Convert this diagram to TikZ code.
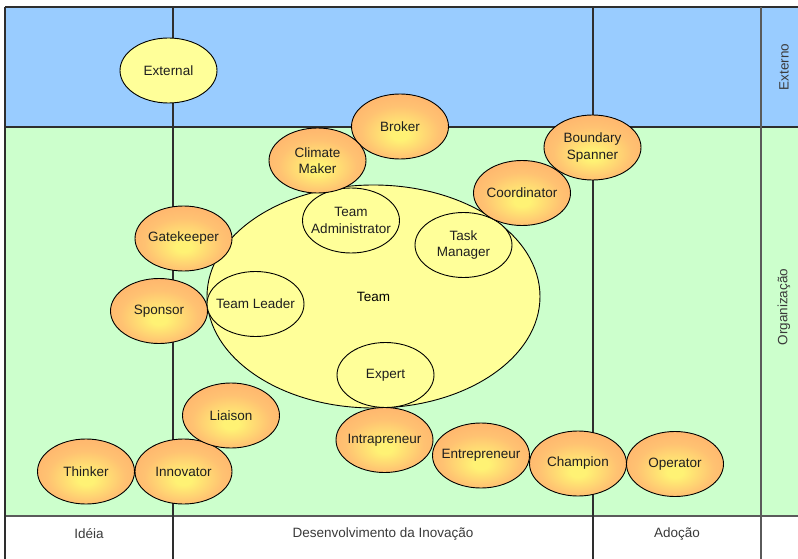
\documentclass[tikz,border=0pt]{standalone}
\usepackage{fontspec}
\setmainfont{Liberation Sans}
\usetikzlibrary{shapes.geometric}

\definecolor{extblue}{HTML}{99CCFF}
\definecolor{orggreen}{HTML}{CCFFCC}
\definecolor{teamyellow}{HTML}{FFFF99}
\definecolor{rolecore}{HTML}{FFF274}
\definecolor{rolemid}{HTML}{FFC272}
\definecolor{roleedge}{HTML}{FF9863}
\definecolor{gridline}{HTML}{2E2E2E}
\definecolor{softline}{HTML}{5A5A5A}
\definecolor{labeltext}{HTML}{3A3A3A}

% radial glow for the role ellipses: small yellow core fading to an orange rim
\pgfdeclareradialshading{roleglow}{\pgfpoint{0bp}{-7bp}}{%
  color(0bp)=(rolecore); color(4bp)=(rolecore); color(20bp)=(rolemid);
  color(50bp)=(roleedge)}

\tikzset{
  txt/.style={font=\fontsize{13.5}{16.5}\selectfont},
  word/.style={txt, align=center, text=black!88, inner sep=0pt},
  base/.style={ellipse, draw=black, line width=0.9pt, inner sep=0pt,
    minimum width=97pt, minimum height=65pt},
  role/.style={base, shading=roleglow},
  member/.style={base, fill=teamyellow},
  team/.style={txt, ellipse, draw=black, line width=0.9pt, fill=teamyellow,
    inner sep=0pt, minimum width=333pt, minimum height=223pt},
  phase/.style={txt, text=labeltext},
  frame/.style={draw=gridline, line width=1.2pt},
}

\begin{document}
\begin{tikzpicture}[x=1pt,y=-1pt]
  \useasboundingbox (0,0) rectangle (798,559);
  \fill[white] (0,0) rectangle (798,559);

  % bands
  \fill[extblue] (5,7) rectangle (798,127);
  \fill[orggreen] (5,127) rectangle (798,516);

  % grid
  \draw[frame] (5,7) -- (798,7);
  \draw[frame] (5,127) -- (798,127);
  \draw[draw=softline, line width=1.2pt] (5,516) -- (798,516);
  \draw[frame] (5,7) -- (5,559);
  \draw[frame] (593,7) -- (593,559);
  \draw[draw=softline, line width=1.4pt] (761,7) -- (761,559);
  \draw[draw=gridline, line width=2.4pt] (173,7) -- (173,559);

  % row and column captions
  \node[phase] (idea) at (89,534) {Idéia};
  \node[phase] (dev) at (383,534) {Desenvolvimento da Inovação};
  \node[phase] (adopt) at (677,534) {Adoção};
  \node[phase, rotate=90] (externo) at (784,67) {Externo};
  \node[phase, rotate=90] (org) at (784,307) {Organização};

  % team and its members
  \node[team] (team) at (373.5,296.5) {Team};
  \node[member] (admin) at (351,220.5) {};
  \node[word] at (admin) {Team\\Administrator};
  \node[member] (task) at (463.5,245) {};
  \node[word] at (task) {Task\\Manager};
  \node[member] (leader) at (255.5,304) {};
  \node[word] at (leader) {Team Leader};
  \node[member] (expert) at (385.5,375) {};
  \node[word] at (expert) {Expert};

  % external role
  \node[member] (external) at (168.5,70.5) {};
  \node[word] at (external) {External};

  % organisational roles
  \node[role] (broker) at (400,126.5) {};
  \node[word] at (broker) {Broker};
  \node[role] (climate) at (317.5,160.5) {};
  \node[word] at (climate) {Climate\\Maker};
  \node[role] (boundary) at (592.5,147.5) {};
  \node[word] at (boundary) {Boundary\\Spanner};
  \node[role] (coord) at (522,193) {};
  \node[word] at (coord) {Coordinator};
  \node[role] (gate) at (183.5,238.5) {};
  \node[word] at (gate) {Gatekeeper};
  \node[role] (sponsor) at (159,311) {};
  \node[word] at (sponsor) {Sponsor};
  \node[role] (thinker) at (86,471.5) {};
  \node[word] at (thinker) {Thinker};
  \node[role] (innov) at (183.5,471.5) {};
  \node[word] at (innov) {Innovator};
  \node[role] (liaison) at (231,415.5) {};
  \node[word] at (liaison) {Liaison};
  \node[role] (intra) at (384.5,440) {};
  \node[word] at (intra) {Intrapreneur};
  \node[role] (entre) at (481,455.5) {};
  \node[word] at (entre) {Entrepreneur};
  \node[role] (champ) at (578,463.5) {};
  \node[word] at (champ) {Champion};
  \node[role] (oper) at (675,464) {};
  \node[word] at (oper) {Operator};
\end{tikzpicture}
\end{document}
